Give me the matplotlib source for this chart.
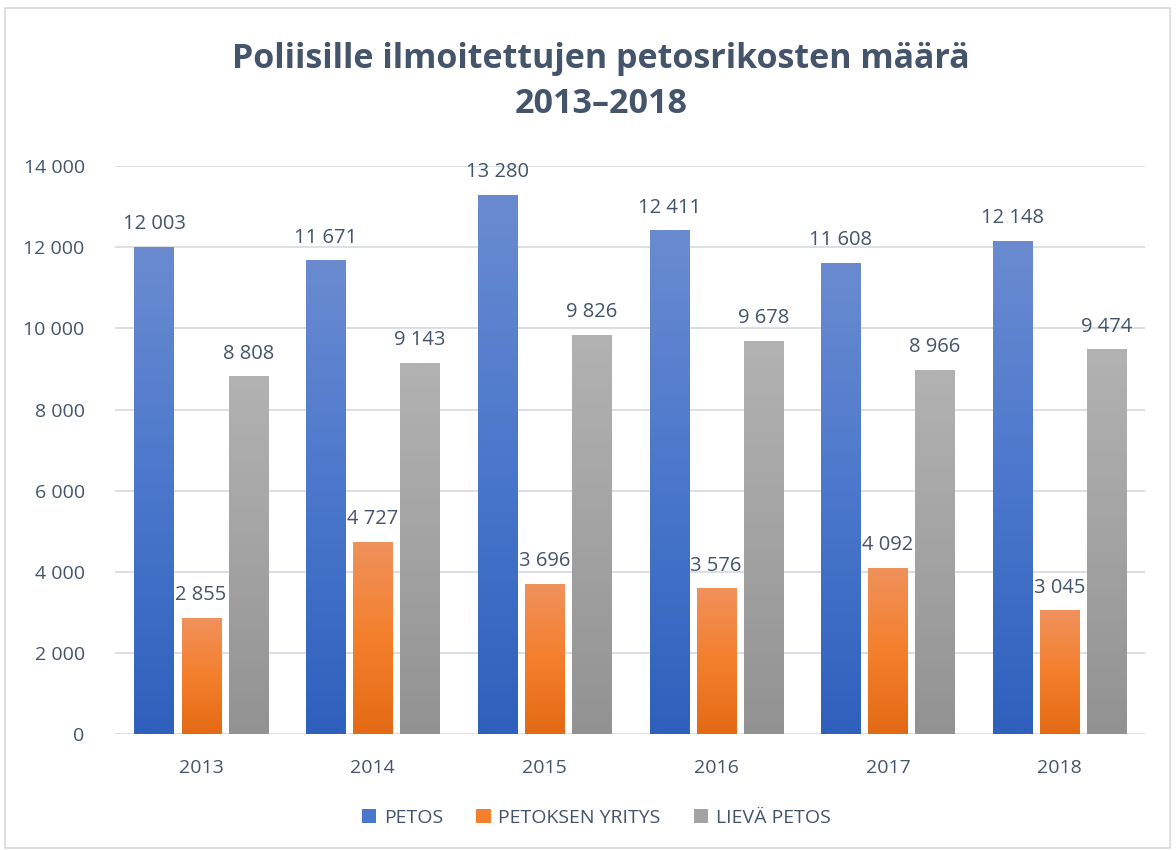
import numpy as np
import matplotlib.pyplot as plt
from matplotlib.colors import LinearSegmentedColormap
from matplotlib.patches import Rectangle, Patch

plt.rcParams['font.family'] = ['Open Sans', 'DejaVu Sans']

# Tiedot
vuodet = ['2013', '2014', '2015', '2016', '2017', '2018']
sarjat = ['PETOS', 'PETOKSEN YRITYS', 'LIEVÄ PETOS']
petos = [12003, 11671, 13280, 12411, 11608, 12148]
petoksen_yritys = [2855, 4727, 3696, 3576, 4092, 3045]
lieva_petos = [8808, 9143, 9826, 9678, 8966, 9474]

# Liukuvärit (alaosa -> yläosa)
gradientit = [
    ['#2E60BC', '#4A77CC', '#6A8BD0'],
    ['#E36A14', '#F47F2C', '#F0915C'],
    ['#929292', '#A3A3A3', '#B2B2B2'],
]
tekstin_vari = '#44546A'

fig = plt.figure(figsize=(11.76, 8.5), dpi=100)
ax = fig.add_axes([0.098, 0.1365, 0.876, 0.668])

x = np.arange(len(vuodet))
leveys = 0.228
askel = 0.274
arvot = [petos, petoksen_yritys, lieva_petos]

for i, (sarja, vals) in enumerate(zip(sarjat, arvot)):
    cmap = LinearSegmentedColormap.from_list('g%d' % i, gradientit[i])
    bars = ax.bar(x + (i - 1) * askel, vals, leveys, color='none', zorder=2)
    for b, v in zip(bars, vals):
        x0, y0, w, h = b.get_x(), b.get_y(), b.get_width(), b.get_height()
        grad = np.linspace(0, 1, 256).reshape(-1, 1)
        ax.imshow(grad, cmap=cmap, origin='lower', aspect='auto',
                  extent=(x0, x0 + w, y0, y0 + h), zorder=2)
        ax.text(x0 + w / 2, v + 320, f'{v:,}'.replace(',', ' '),
                ha='center', va='bottom', fontsize=14.5, color=tekstin_vari)

ax.set_xlim(-0.5, 5.5)
ax.set_ylim(0, 14000)
ax.set_yticks(range(0, 14001, 2000))
ax.set_yticklabels([f'{t:,}'.replace(',', ' ') for t in range(0, 14001, 2000)])
ax.set_xticks(x)
ax.set_xticklabels(vuodet)
ax.tick_params(length=0, labelsize=14, colors=tekstin_vari)
ax.tick_params(axis='x', pad=18)
ax.tick_params(axis='y', pad=22)
ax.grid(axis='y', color='#D9DDE3', linewidth=1.3, zorder=0)
ax.set_axisbelow(True)
for s in ax.spines.values():
    s.set_visible(False)

fig.suptitle('Poliisille ilmoitettujen petosrikosten määrä\n2013\u20132018',
             x=0.511, y=0.95, fontsize=24.5, fontweight='bold', color=tekstin_vari,
             linespacing=1.4)

kahvat = [Patch(facecolor=g[1], edgecolor='none') for g in gradientit]
fig.legend(kahvat, sarjat, loc='center', bbox_to_anchor=(0.507, 0.038), ncol=3,
           frameon=False, fontsize=14, labelcolor=tekstin_vari,
           handlelength=0.75, handleheight=0.75, handletextpad=0.4, columnspacing=1.7)

fig.patches.append(Rectangle((0.004, 0.002), 0.991, 0.989, transform=fig.transFigure,
                             fill=False, edgecolor='#D9D9D9', linewidth=1.2))

fig.savefig('out.png', dpi=100)
